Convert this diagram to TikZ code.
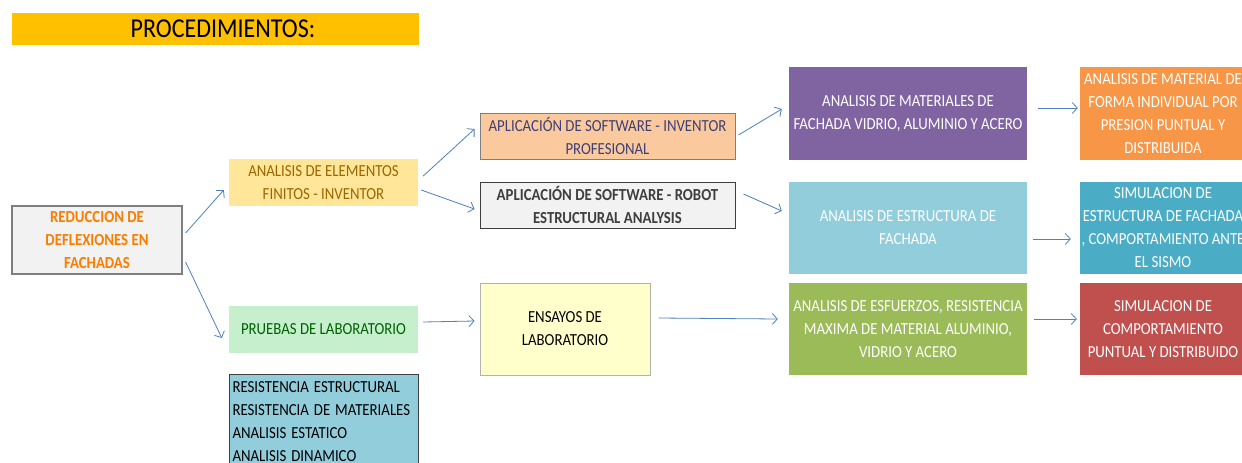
\documentclass[tikz,border=0pt]{standalone}
\usepackage{fontspec}
\setmainfont{Carlito}
\usetikzlibrary{arrows.meta}
\newcommand{\vst}[1]{\scalebox{1}[1.14]{#1}}
\definecolor{titleyellow}{HTML}{FFC000}
\definecolor{calcfill}{HTML}{F2F2F2}
\definecolor{calcborder}{HTML}{7F7F7F}
\definecolor{calctext}{HTML}{FA7D00}
\definecolor{neutralfill}{HTML}{FFE699}
\definecolor{neutraltext}{HTML}{9C6500}
\definecolor{goodfill}{HTML}{C6EFCE}
\definecolor{goodtext}{HTML}{006100}
\definecolor{inputfill}{HTML}{FACA9E}
\definecolor{inputtext}{HTML}{3F3F76}
\definecolor{outborder}{HTML}{3F3F3F}
\definecolor{notefill}{HTML}{FFFFCC}
\definecolor{noteborder}{HTML}{B2B2B2}
\definecolor{accpurple}{HTML}{8064A2}
\definecolor{acclightblue}{HTML}{92CDDC}
\definecolor{accgreen}{HTML}{9BBB59}
\definecolor{accorange}{HTML}{F79646}
\definecolor{accteal}{HTML}{4BACC6}
\definecolor{accred}{HTML}{C0504D}
\definecolor{arrowblue}{HTML}{4F81BD}
\tikzset{
  txt/.style={font=\fontsize{14.8}{23}\selectfont, align=center, inner sep=0pt},
  box/.style={txt, rectangle},
  whitebox/.style={box, text=white},
  conn/.style={draw=arrowblue, line width=0.8pt, -{Straight Barb[length=5pt,width=11pt,line width=0.8pt]}},
}
\begin{document}
\begin{tikzpicture}[x=1pt,y=1pt]
\clip (0,0) rectangle (1242,-463);
\fill[white] (0,0) rectangle (1242,-463);

% title
\node[fill=titleyellow, minimum width=407pt, minimum height=32pt, inner sep=0pt,
      font=\fontsize{24}{28}\selectfont] (title) at (215.5,-29) {\hspace*{15pt}\vst{PROCEDIMIENTOS:}};

% column 1
\node[box, fill=calcfill, draw=calcborder, line width=1.2pt, text=calctext, font=\bfseries\fontsize{14.8}{23}\selectfont,
      minimum width=170pt, minimum height=68pt] (red) at (97,-240)
      {\vst{REDUCCION DE}\\\vst{DEFLEXIONES EN}\\\vst{FACHADAS}};

% column 2
\node[box, fill=neutralfill, text=neutraltext, minimum width=189pt, minimum height=47pt] (ana) at (323.5,-182.5)
      {\vst{ANALISIS DE ELEMENTOS}\\\vst{FINITOS - INVENTOR}};
\node[box, fill=goodfill, text=goodtext, minimum width=189pt, minimum height=47pt] (pru) at (323.5,-329.5)
      {\vst{PRUEBAS DE LABORATORIO}};
\node[txt, align=left, anchor=north west, fill=acclightblue, draw=outborder, line width=1pt,
      text width=183pt, inner xsep=3pt, inner ysep=7pt] (list) at (229,-374)
      {\vst{RESISTENCIA ESTRUCTURAL}\\\vst{RESISTENCIA DE MATERIALES}\\\vst{ANALISIS ESTATICO}\\\vst{ANALISIS DINAMICO}\\\mbox{}};

% column 3
\node[box, fill=inputfill, draw=calcborder, line width=1pt, text=inputtext, minimum width=255pt, minimum height=46pt] (inv) at (607.5,-136)
      {\vst{APLICACIÓN DE SOFTWARE - INVENTOR}\\\vst{PROFESIONAL}};
\node[box, fill=calcfill, draw=outborder, line width=1pt, text=outborder, font=\bfseries\fontsize{14.8}{23}\selectfont,
      minimum width=255pt, minimum height=46pt] (rob) at (607.5,-205)
      {\vst{APLICACIÓN DE SOFTWARE - ROBOT}\\\vst{ESTRUCTURAL ANALYSIS}};
\node[box, fill=notefill, draw=noteborder, line width=1pt, text=black, minimum width=170pt, minimum height=92pt] (ens) at (565,-329)
      {\vst{ENSAYOS DE}\\\vst{LABORATORIO}};

% column 4
\node[whitebox, fill=accpurple, minimum width=238pt, minimum height=93pt] (pur) at (908,-113.5)
      {\vst{ANALISIS DE MATERIALES DE}\\\vst{FACHADA VIDRIO, ALUMINIO Y ACERO}};
\node[whitebox, fill=acclightblue, minimum width=238pt, minimum height=92pt] (lb) at (908,-228)
      {\vst{ANALISIS DE ESTRUCTURA DE}\\\vst{FACHADA}};
\node[whitebox, fill=accgreen, minimum width=238pt, minimum height=92pt] (gr) at (908,-329)
      {\vst{ANALISIS DE ESFUERZOS, RESISTENCIA}\\\vst{MAXIMA DE MATERIAL ALUMINIO,}\\\vst{VIDRIO Y ACERO}};

% column 5
\node[whitebox, fill=accorange, minimum width=166pt, minimum height=93pt] (ora) at (1163,-113.5)
      {\vst{ANALISIS DE MATERIAL DE}\\\vst{FORMA INDIVIDUAL POR}\\\vst{PRESION PUNTUAL Y}\\\vst{DISTRIBUIDA}};
\node[whitebox, fill=accteal, minimum width=166pt, minimum height=92pt] (tea) at (1163,-228)
      {\vst{SIMULACION DE}\\\vst{ESTRUCTURA DE FACHADA}\\\vst{, COMPORTAMIENTO ANTE}\\\vst{EL SISMO}};
\node[whitebox, fill=accred, minimum width=166pt, minimum height=92pt] (rdd) at (1163,-329)
      {\vst{SIMULACION DE}\\\vst{COMPORTAMIENTO}\\\vst{PUNTUAL Y DISTRIBUIDO}};

% connectors
\draw[conn] ([xshift=3pt,yshift=7pt]red.east) -- ([xshift=-5pt,yshift=-7.5pt]ana.west);
\draw[conn] ([xshift=3pt,yshift=-22pt]red.east) -- ([xshift=-7pt,yshift=-8.5pt]pru.west);
\draw[conn] ([xshift=5pt,yshift=6.5pt]ana.east) -- ([xshift=-5pt,yshift=7pt]inv.west);
\draw[conn] ([xshift=3pt,yshift=-7.5pt]ana.east) -- ([xshift=-5pt,yshift=-4pt]rob.west);
\draw[conn] ([xshift=5pt,yshift=7.5pt]pru.east) -- ([xshift=-5pt,yshift=8pt]ens.west);
\draw[conn] ([xshift=3pt,yshift=1pt]inv.east) -- ([xshift=-7pt,yshift=4.5pt]pur.west);
\draw[conn] ([xshift=8pt,yshift=11pt]rob.east) -- ([xshift=-7pt,yshift=17pt]lb.west);
\draw[conn] ([xshift=8pt,yshift=11pt]ens.east) -- ([xshift=-11pt,yshift=10pt]gr.west);
\draw[conn] ([xshift=11pt,yshift=5.5pt]pur.east) -- ([xshift=-2pt,yshift=5.5pt]ora.west);
\draw[conn] ([xshift=6pt,yshift=-11pt]lb.east) -- ([xshift=-9pt,yshift=-11pt]tea.west);
\draw[conn] ([xshift=7pt,yshift=10pt]gr.east) -- ([xshift=-3pt,yshift=10pt]rdd.west);
\end{tikzpicture}
\end{document}
